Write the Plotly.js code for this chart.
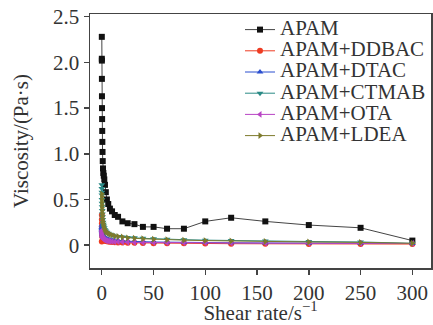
<!DOCTYPE html>
<html><head><meta charset="utf-8">
<script src="https://cdn.plot.ly/plotly-3.0.1.min.js"></script>
<style>html,body{margin:0;padding:0;background:#fff}#c{width:433px;height:325px}</style>
</head><body><div id="c"></div>
<script>
var shearRate = [0.1,0.126,0.158,0.2,0.251,0.316,0.398,0.501,0.631,0.794,1,1.26,1.58,2,2.51,3.16,3.98,5.01,6.31,7.94,10,12.6,15.8,20,25.1,31.6,39.8,50.1,63.1,79.4,100,125,158,200,250,300];
var apam  = [2.28,2.04,2.02,1.82,1.63,1.50,1.38,1.25,1.13,1.02,0.92,0.84,0.79,0.76,0.72,0.66,0.58,0.50,0.45,0.40,0.37,0.33,0.31,0.26,0.24,0.23,0.20,0.20,0.18,0.18,0.26,0.30,0.26,0.22,0.19,0.05];
var ddbac = [0.04,0.33,0.28,0.24,0.20,0.17,0.14,0.12,0.10,0.09,0.08,0.07,0.065,0.06,0.055,0.05,0.045,0.042,0.04,0.038,0.035,0.033,0.03,0.028,0.026,0.025,0.023,0.022,0.02,0.02,0.018,0.016,0.015,0.014,0.013,0.012];
var dtac  = [0.22,0.20,0.19,0.18,0.17,0.16,0.15,0.14,0.13,0.12,0.11,0.10,0.095,0.09,0.085,0.08,0.075,0.07,0.065,0.06,0.055,0.05,0.048,0.045,0.042,0.04,0.038,0.035,0.033,0.03,0.028,0.026,0.024,0.022,0.02,0.018];
var ctmab = [0.66,0.62,0.58,0.55,0.50,0.46,0.42,0.38,0.34,0.31,0.28,0.25,0.23,0.21,0.19,0.17,0.155,0.14,0.13,0.12,0.11,0.10,0.095,0.09,0.085,0.08,0.075,0.07,0.065,0.06,0.055,0.05,0.045,0.04,0.035,0.02];
var ota   = [0.16,0.15,0.14,0.13,0.12,0.11,0.10,0.095,0.09,0.085,0.08,0.075,0.07,0.065,0.06,0.055,0.05,0.048,0.045,0.042,0.04,0.038,0.036,0.034,0.032,0.03,0.029,0.028,0.027,0.026,0.025,0.024,0.022,0.02,0.019,0.018];
var ldea  = [0.56,0.53,0.50,0.47,0.44,0.41,0.38,0.35,0.32,0.29,0.26,0.24,0.22,0.20,0.18,0.165,0.15,0.14,0.13,0.12,0.11,0.10,0.095,0.09,0.08,0.075,0.07,0.065,0.06,0.055,0.05,0.045,0.04,0.035,0.03,0.02];
var names = ["APAM","APAM+DDBAC","APAM+DTAC","APAM+CTMAB","APAM+OTA","APAM+LDEA"];
var xTicks = [0,50,100,150,200,250,300];
var yTicks = [0,0.5,1.0,1.5,2.0,2.5];
var yTickText = ["0","0.5","1.0","1.5","2.0","2.5"];

var series = [apam, ddbac, dtac, ctmab, ota, ldea];
var colors = ["#111111","#ee3b22","#2b4fcf","#2a8a86","#b844c4","#7d7a2c"];
var symbols = ["square","circle","triangle-up","triangle-down","triangle-left","triangle-right"];
var data = series.map(function(s,i){
  return {x: shearRate, y: s, name: '<span style="font-size:21px">' + names[i] + '</span>',
    type:"scatter", mode:"lines+markers",
    line:{color: i===0 ? "#444444" : colors[i], width:1},
    marker:{symbol: symbols[i], color: colors[i], size: 6}};
});
var font = "Liberation Serif, Times New Roman, serif";
var layout = {
  width:433, height:325,
  margin:{l:90, r:2, t:14, b:57, autoexpand:false},
  paper_bgcolor:"#fff", plot_bgcolor:"#fff",
  font:{family:font, size:20, color:"#333"},
  showlegend:true,
  legend:{x:1, xanchor:"right", y:1, yanchor:"top", bgcolor:"rgba(0,0,0,0)",
    font:{family:font, size:14, color:"#333"}, itemwidth:30, tracegroupgap:0},
  xaxis:{range:[-11.3,318], tickvals:xTicks, ticks:"outside", ticklen:5, tickwidth:1.5,
    tickcolor:"#444", showline:true, linecolor:"#444", linewidth:1.5, mirror:true, automargin:true,
    showgrid:false, zeroline:false, tickfont:{family:font, size:21, color:"#333"},
    title:{text:"Shear rate/s<sup>−1</sup>", font:{family:font, size:21, color:"#333"}, standoff:6}},
  yaxis:{range:[-0.25,2.53], tickvals:yTicks, ticktext:yTickText, ticks:"outside", ticklen:5, tickwidth:1.5,
    tickcolor:"#444", showline:true, linecolor:"#444", linewidth:1.5, mirror:true, automargin:true,
    showgrid:false, zeroline:false, tickfont:{family:font, size:21, color:"#333"},
    title:{text:"Viscosity/(Pa·s)", font:{family:font, size:21, color:"#333"}, standoff:18}}
};
Plotly.newPlot("c", data, layout, {displayModeBar:false, staticPlot:true});
</script></body></html>
